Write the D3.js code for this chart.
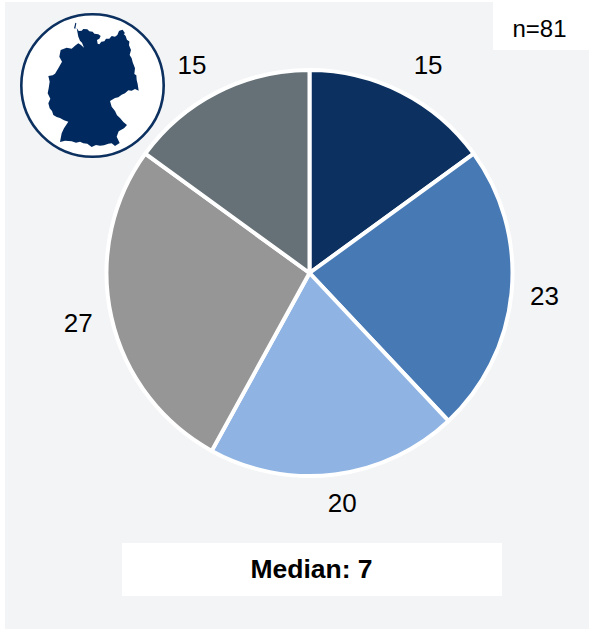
<!DOCTYPE html>
<html>
<head>
<meta charset="utf-8">
<script src="https://cdn.jsdelivr.net/npm/d3@7"></script>
<style>
html, body { margin: 0; padding: 0; background: #fff; }
svg { display: block; }
text { font-family: "Liberation Sans", Arial, sans-serif; fill: #000; }
</style>
</head>
<body>
<svg id="chart"></svg>
<script>
const values = [15, 23, 20, 27, 15];
const colors = ['#0c3160', '#477ab5', '#8fb4e3', '#969696', '#657177'];
const sampleLabel = 'n=81';
const medianLabel = 'Median: 7';

// outline of the map icon (icon units, 3 = 1px)
const germany = [[230,84],[236,93],[245,92],[250,87],[262,88],[268,94],[278,95],[283,101],[295,103],[302,108],[298,116],[291,120],[293,131],[298,133],[304,125],[313,124],[318,116],[328,116],[335,108],[345,110],[352,105],[357,93],[367,92],[371,102],[377,108],[381,120],[388,126],[387,136],[393,150],[389,165],[395,175],[398,187],[405,205],[403,222],[409,226],[410,240],[413,252],[416,272],[405,267],[395,272],[385,271],[375,280],[365,284],[355,292],[345,294],[330,303],[335,320],[345,333],[351,346],[360,354],[370,366],[381,375],[372,385],[356,394],[350,410],[359,429],[345,438],[335,430],[325,431],[312,436],[300,437],[288,435],[275,441],[262,431],[250,430],[240,425],[228,428],[215,424],[195,422],[180,426],[185,400],[192,385],[205,365],[192,361],[180,354],[170,351],[160,345],[156,333],[149,325],[145,310],[151,296],[143,280],[146,265],[149,245],[145,228],[158,226],[165,221],[174,206],[186,185],[178,170],[182,150],[200,143],[215,146],[225,137],[235,130],[243,135],[252,143],[246,128],[240,122],[235,110],[230,84]];
const islands = [[[222,85],[226,68],[229,70],[226,86]], [[358,92],[368,89],[375,100],[366,104]], [[380,120],[388,124],[386,130]]];

const labelShift = [[11, 3], [-1, 1], [3, -5], [0, -2], [-10, 3]];

const width = 589, height = 629;
const cx = 309.5, cy = 273, radius = 203;

const svg = d3.select('#chart')
    .attr('width', width)
    .attr('height', height);

svg.append('rect')
    .attr('x', 5).attr('y', 2)
    .attr('width', width - 5).attr('height', height - 2)
    .attr('fill', '#f3f4f6');

// pie
let pie = d3.pie().sort(null).value(d => d);
let arc = d3.arc().innerRadius(0).outerRadius(radius);
let labelArc = d3.arc().innerRadius(237).outerRadius(237);

let g = svg.append('g').attr('transform', `translate(${cx},${cy})`);

g.selectAll('.slice')
    .data(pie(values))
    .enter()
    .append('path')
    .classed('slice', true)
    .attr('d', arc)
    .attr('fill', (d, i) => colors[i])
    .attr('stroke', '#fff')
    .attr('stroke-width', 4)
    .attr('stroke-linejoin', 'round');

g.selectAll('.value')
    .data(pie(values))
    .enter()
    .append('text')
    .classed('value', true)
    .attr('transform', (d, i) => {
        let c = labelArc.centroid(d);
        return `translate(${c[0] + labelShift[i][0]},${c[1] + labelShift[i][1]})`;
    })
    .attr('text-anchor', 'middle')
    .attr('dominant-baseline', 'central')
    .attr('font-size', 26)
    .text(d => d.data);

// n box
svg.append('rect')
    .attr('x', 493).attr('y', 0)
    .attr('width', 96).attr('height', 50)
    .attr('fill', '#fff');
svg.append('text')
    .attr('x', 539.5).attr('y', 28)
    .attr('text-anchor', 'middle')
    .attr('dominant-baseline', 'central')
    .attr('font-size', 24)
    .text(sampleLabel);

// median box
svg.append('rect')
    .attr('x', 122).attr('y', 543)
    .attr('width', 380).attr('height', 53)
    .attr('fill', '#fff');
svg.append('text')
    .attr('x', 311.5).attr('y', 569)
    .attr('text-anchor', 'middle')
    .attr('dominant-baseline', 'central')
    .attr('font-size', 26.5)
    .attr('font-weight', 'bold')
    .text(medianLabel);

// map icon
let icon = svg.append('g');
icon.append('circle')
    .attr('cx', 92.5).attr('cy', 85.5).attr('r', 71.2)
    .attr('fill', '#fff')
    .attr('stroke', '#0c3160')
    .attr('stroke-width', 2.6);

let line = d3.line().x(d => d[0] / 3).y(d => d[1] / 3);
icon.selectAll('.land')
    .data([germany].concat(islands))
    .enter()
    .append('path')
    .classed('land', true)
    .attr('d', d => line(d) + 'Z')
    .attr('fill', '#002a5f');
</script>
</body>
</html>
